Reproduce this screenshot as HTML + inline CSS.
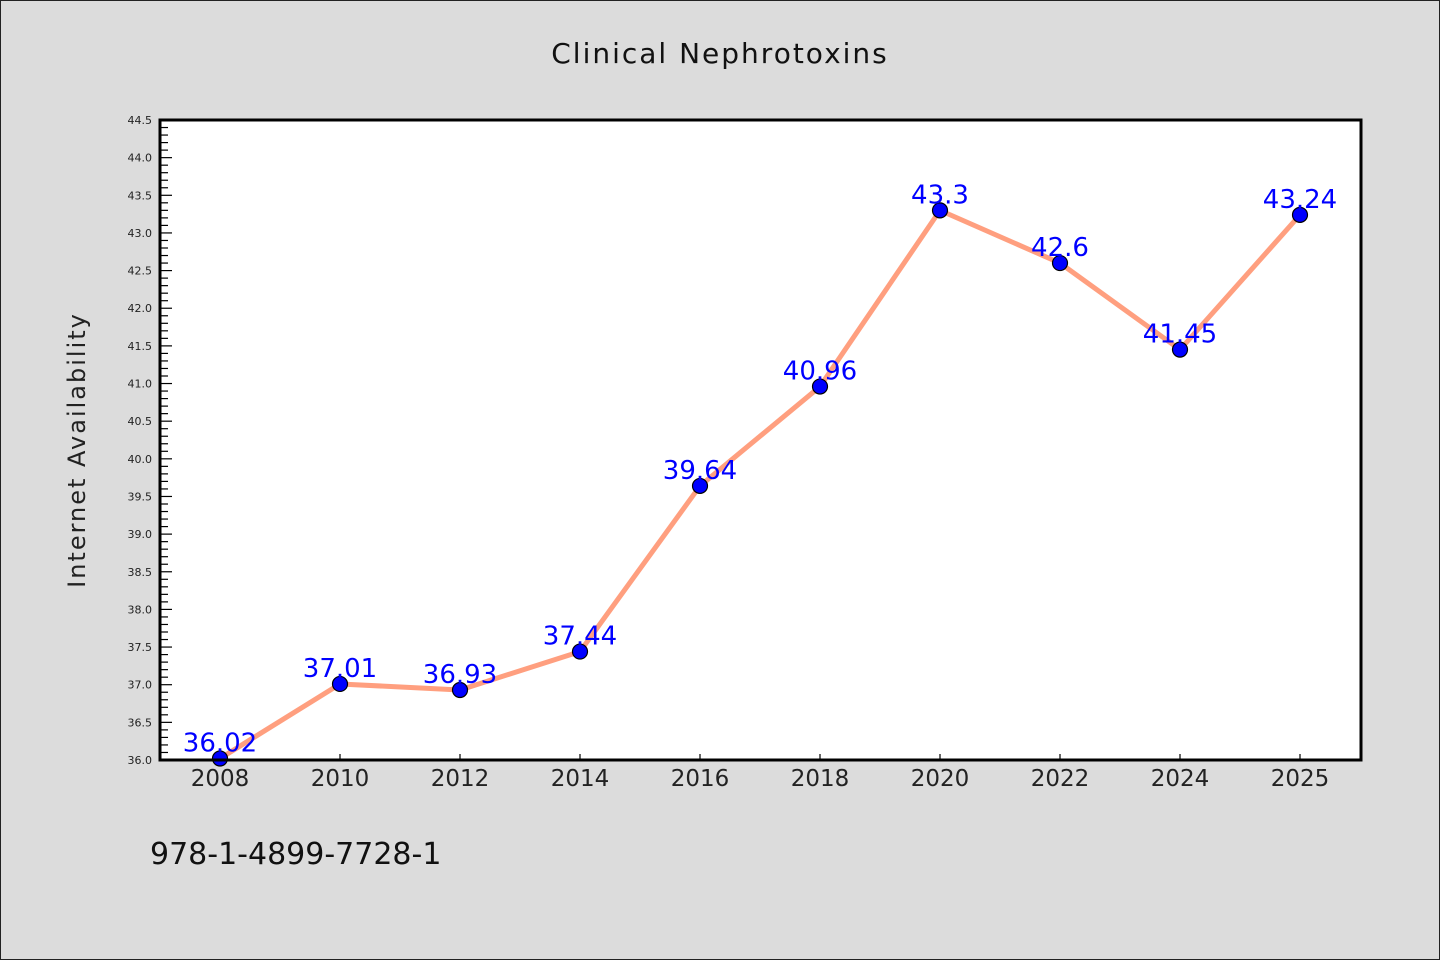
<!DOCTYPE html>
<html><head><meta charset="utf-8"><style>
body{margin:0;background:#dcdcdc;}
svg{display:block;font-family:"DejaVu Sans","Liberation Sans",sans-serif;}
</style></head><body>
<svg id="chart" width="1440" height="960">
<rect x="0.5" y="0.5" width="1439" height="959" fill="#dcdcdc" stroke="#222" stroke-width="1"/>
<text x="720" y="63" text-anchor="middle" font-size="28" letter-spacing="2" fill="#111">Clinical Nephrotoxins</text>
<rect x="160" y="120" width="1201" height="640" fill="#fff"/>
<g id="yticks"></g><g id="xticks"></g>
<polyline id="line" fill="none" stroke="#ff9f7f" stroke-width="5" stroke-linejoin="round"/>
<g id="points"></g><g id="labels"></g>
<rect x="160" y="120" width="1201" height="640" fill="none" stroke="#000" stroke-width="3"/>
<text transform="translate(85,450) rotate(-90)" text-anchor="middle" font-size="24" letter-spacing="2" fill="#222">Internet Availability</text>
<text x="150" y="864" font-size="30" fill="#111">978-1-4899-7728-1</text>
</svg>
<script>
const categories=["2008","2010","2012","2014","2016","2018","2020","2022","2024","2025"];
const values=[36.02,37.01,36.93,37.44,39.64,40.96,43.3,42.6,41.45,43.24];
const valueLabels=["36.02","37.01","36.93","37.44","39.64","40.96","43.3","42.6","41.45","43.24"];
const yMin=36.0,yMax=44.5;
const NS="http://www.w3.org/2000/svg";
function xs(i){return 220+i*120;}
function ys(v){return 760-(v-yMin)/(yMax-yMin)*640;}
function mk(t,a,p){const e=document.createElementNS(NS,t);for(const k in a)e.setAttribute(k,a[k]);p.appendChild(e);return e;}
const yt=document.getElementById('yticks');
for(let k=0;k<=85;k++){const v=yMin+k*0.1;const y=ys(v);const major=k%5===0;
const t=mk('line',{x1:160,x2:major?172:168,y1:y,y2:y,stroke:'#000','stroke-width':1.2},yt);


if(major){const l=mk('text',{x:152,y:y+4,'text-anchor':'end','font-size':11,fill:'#222'},yt);l.textContent=v.toFixed(1);

}}
const xt=document.getElementById('xticks');
categories.forEach((c,i)=>{const x=xs(i);
const t=mk('line',{x1:x,x2:x,y1:760,y2:754,stroke:'#000','stroke-width':1.2},xt);


const l=mk('text',{x:x,y:786,'text-anchor':'middle','font-size':23,fill:'#222'},xt);l.textContent=c;

});
document.getElementById('line').setAttribute('points',values.map((v,i)=>xs(i)+','+ys(v)).join(' '));
const pg=document.getElementById('points'),lg=document.getElementById('labels');
values.forEach((v,i)=>{const c=mk('circle',{cx:xs(i),cy:ys(v),r:7.5,fill:'#0000ff',stroke:'#000','stroke-width':1.2},pg);


const l=mk('text',{x:xs(i),y:ys(v)-7,'text-anchor':'middle','font-size':26,fill:'#0000ff'},lg);l.textContent=valueLabels[i];

});
</script>
</body></html>
